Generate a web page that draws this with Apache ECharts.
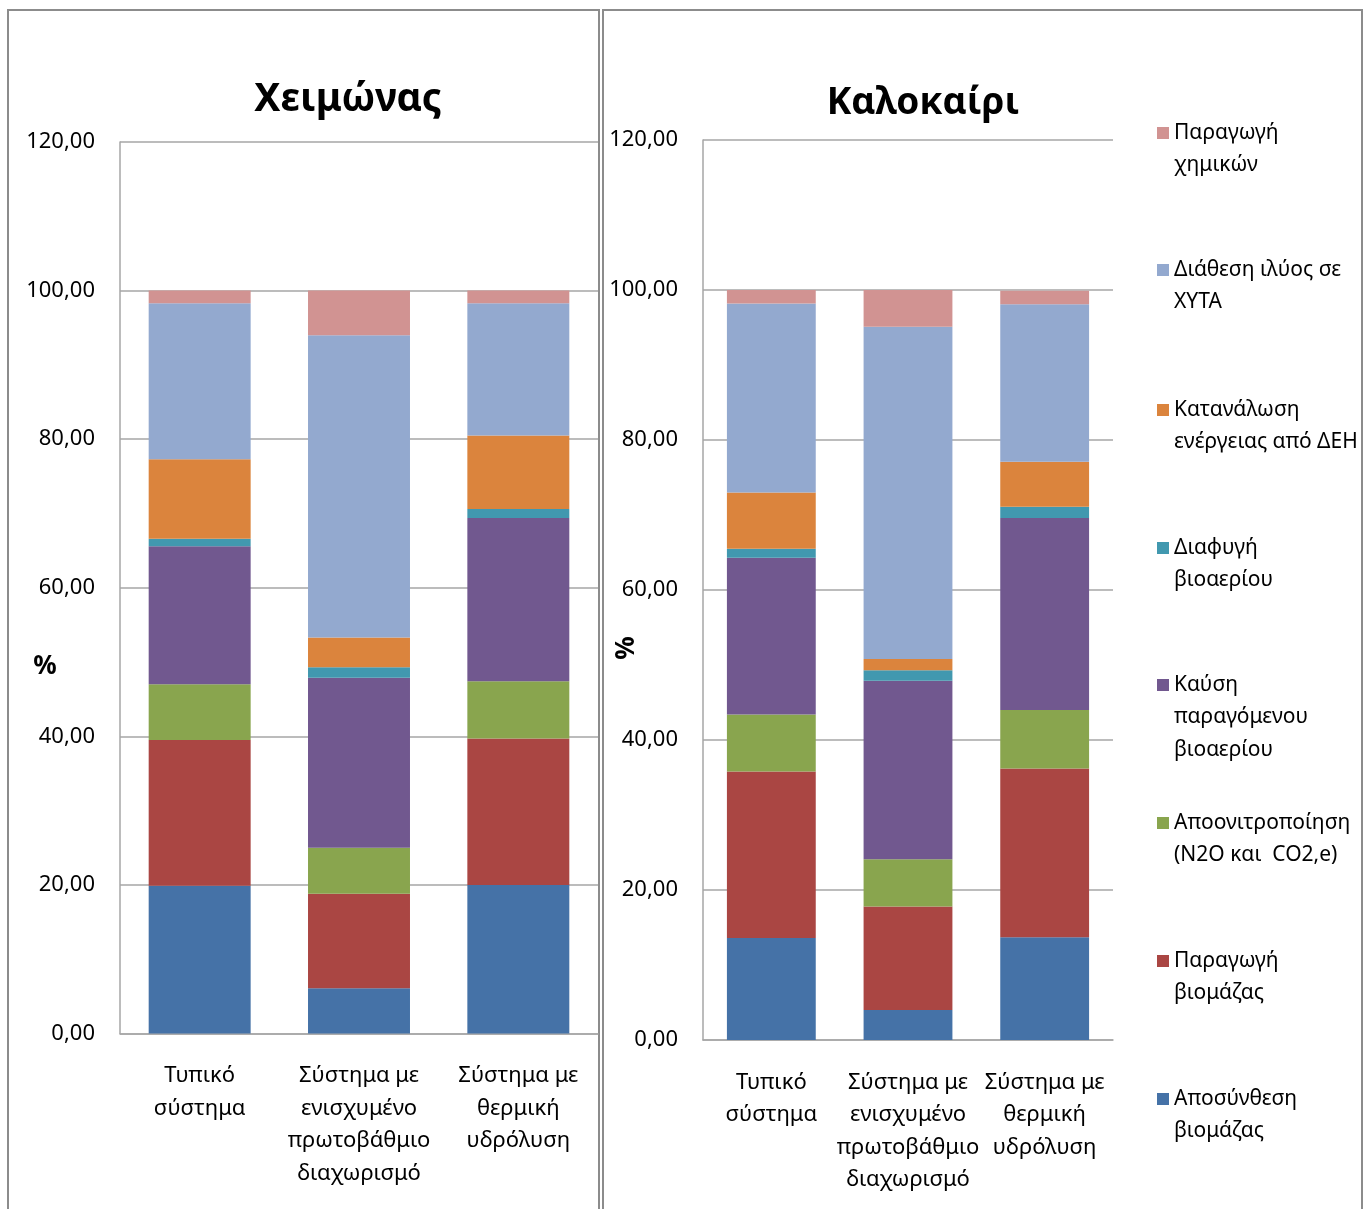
<!DOCTYPE html>
<html>
<head>
<meta charset="utf-8">
<script src="https://cdn.jsdelivr.net/npm/echarts@6/dist/echarts.min.js"></script>
<style>
  html, body { margin: 0; padding: 0; background: #fff; }
  #chart { width: 1369px; height: 1209px; }
</style>
</head>
<body>
<div id="chart"></div>
<script>
// Categories (wastewater treatment configurations)
const categories = ['Τυπικό\nσύστημα', 'Σύστημα με\nενισχυμένο\nπρωτοβάθμιο\nδιαχωρισμό', 'Σύστημα με\nθερμική\nυδρόλυση'];

// Emission sources, bottom of the stack first
const seriesNames = [
  'Αποσύνθεση βιομάζας',
  'Παραγωγή βιομάζας',
  'Αποονιτροποίηση (N2O και  CO2,e)',
  'Καύση παραγόμενου βιοαερίου',
  'Διαφυγή βιοαερίου',
  'Κατανάλωση ενέργειας από ΔΕΗ',
  'Διάθεση ιλύος σε ΧΥΤΑ',
  'Παραγωγή χημικών'
];
const legendLabels = [
  'Αποσύνθεση\nβιομάζας',
  'Παραγωγή\nβιομάζας',
  'Αποονιτροποίηση\n(N2O και  CO2,e)',
  'Καύση\nπαραγόμενου\nβιοαερίου',
  'Διαφυγή\nβιοαερίου',
  'Κατανάλωση\nενέργειας από ΔΕΗ',
  'Διάθεση ιλύος σε\nΧΥΤΑ',
  'Παραγωγή\nχημικών'
];
const seriesColors = ['#4572A7', '#AA4643', '#89A54E', '#71588F', '#4198AF', '#DB843D', '#93A9CF', '#D19392'];

// Winter shares (%) per category
const winterDecomposition = [19.9, 6.1, 20.0];
const winterBiomass       = [19.6, 12.7, 19.7];
const winterDenitrif      = [7.5, 6.2, 7.7];
const winterCombustion    = [18.6, 22.9, 22.0];
const winterLeakage       = [1.0, 1.4, 1.2];
const winterElectricity   = [10.7, 4.0, 9.9];
const winterLandfill      = [21.0, 40.7, 17.8];
const winterChemicals     = [1.7, 6.0, 1.7];

// Summer shares (%) per category
const summerDecomposition = [13.6, 4.0, 13.7];
const summerBiomass       = [22.2, 13.8, 22.5];
const summerDenitrif      = [7.6, 6.3, 7.8];
const summerCombustion    = [20.9, 23.8, 25.6];
const summerLeakage       = [1.2, 1.4, 1.5];
const summerElectricity   = [7.5, 1.5, 6.0];
const summerLandfill      = [25.2, 44.3, 21.0];
const summerChemicals     = [1.8, 4.9, 1.8];

// Value axis ticks
const yMin = 0, yMax = 120, yStep = 20;

const winterSets = [winterDecomposition, winterBiomass, winterDenitrif, winterCombustion,
                    winterLeakage, winterElectricity, winterLandfill, winterChemicals];
const summerSets = [summerDecomposition, summerBiomass, summerDenitrif, summerCombustion,
                    summerLeakage, summerElectricity, summerLandfill, summerChemicals];

const FONT = '"Noto Sans", "Open Sans", sans-serif';
const GRID_COLOR = '#a6a6a6';

function valueAxis(gridIndex) {
  return {
    type: 'value', gridIndex, min: yMin, max: yMax, interval: yStep,
    axisLine: { show: true, lineStyle: { color: GRID_COLOR, width: 1.5 } },
    axisTick: { show: false },
    splitLine: { show: true, lineStyle: { color: GRID_COLOR, width: 1.5 } },
    axisLabel: {
      color: '#000', fontFamily: FONT, fontSize: 22, margin: 25,
      formatter: v => v.toFixed(2).replace('.', ',')
    }
  };
}
function categoryAxis(gridIndex) {
  return {
    type: 'category', gridIndex, data: categories,
    axisLine: { show: true, lineStyle: { color: GRID_COLOR, width: 1.5 } },
    axisTick: { show: false },
    axisLabel: { color: '#000', fontFamily: FONT, fontSize: 22, lineHeight: 32.5, margin: 26, interval: 0 }
  };
}

const series = [];
seriesNames.forEach((name, i) => {
  series.push({
    name, type: 'bar', stack: 'winter', xAxisIndex: 0, yAxisIndex: 0,
    barWidth: '64%', data: winterSets[i], itemStyle: { color: seriesColors[i] }
  });
  series.push({
    name, type: 'bar', stack: 'summer', xAxisIndex: 1, yAxisIndex: 1,
    barWidth: '65%', data: summerSets[i], itemStyle: { color: seriesColors[i] }
  });
});

// One legend block per source, listed top (chemicals) to bottom (decomposition).
// Blank leading lines keep the colour square level with the first text line.
const legendIconCenters = [1099, 961, 823, 685, 548, 410, 270, 133];
const LEG_LH = 32.5;
const legends = seriesNames.map((name, i) => {
  const lines = legendLabels[i].split('\n');
  const n = lines.length;
  const padded = Array(n - 1).fill(' ').concat(lines).join('\n');
  return {
    data: [name], orient: 'vertical', left: 1157,
    top: legendIconCenters[i] - (2 * n - 1) * LEG_LH / 2,
    padding: 0, itemWidth: 12, itemHeight: 12, icon: 'rect', selectedMode: false,
    formatter: () => padded,
    textStyle: { color: '#000', fontFamily: FONT, fontSize: 21, lineHeight: LEG_LH }
  };
});

const option = {
  backgroundColor: '#fff',
  animation: false,
  title: [
    { text: 'Χειμώνας', left: 343, top: 75, textAlign: 'center',
      textStyle: { fontFamily: FONT, fontSize: 39, fontWeight: 'bold', color: '#000' } },
    { text: 'Καλοκαίρι', left: 918, top: 80, textAlign: 'center',
      textStyle: { fontFamily: FONT, fontSize: 37, fontWeight: 'bold', color: '#000' } }
  ],
  legend: legends,
  grid: [
    { left: 120, top: 142, width: 478, height: 891.5 },
    { left: 703, top: 140, width: 410, height: 900 }
  ],
  xAxis: [categoryAxis(0), categoryAxis(1)],
  yAxis: [valueAxis(0), valueAxis(1)],
  series,
  graphic: [
    { type: 'rect', shape: { x: 8, y: 10, width: 591, height: 1220 },
      style: { fill: 'none', stroke: '#8c8c8c', lineWidth: 2 }, silent: true },
    { type: 'rect', shape: { x: 603, y: 10, width: 759, height: 1220 },
      style: { fill: 'none', stroke: '#8c8c8c', lineWidth: 2 }, silent: true },
    { type: 'text', x: 45, y: 667,
      style: { text: '%', font: 'bold 26px ' + FONT, fill: '#000', align: 'center', verticalAlign: 'middle' } },
    { type: 'text', x: 627, y: 648, rotation: Math.PI / 2,
      style: { text: '%', font: 'bold 26px ' + FONT, fill: '#000', align: 'center', verticalAlign: 'middle' } }
  ]
};

const chart = echarts.init(document.getElementById('chart'), null, { renderer: 'canvas' });
chart.setOption(option);
</script>
</body>
</html>
